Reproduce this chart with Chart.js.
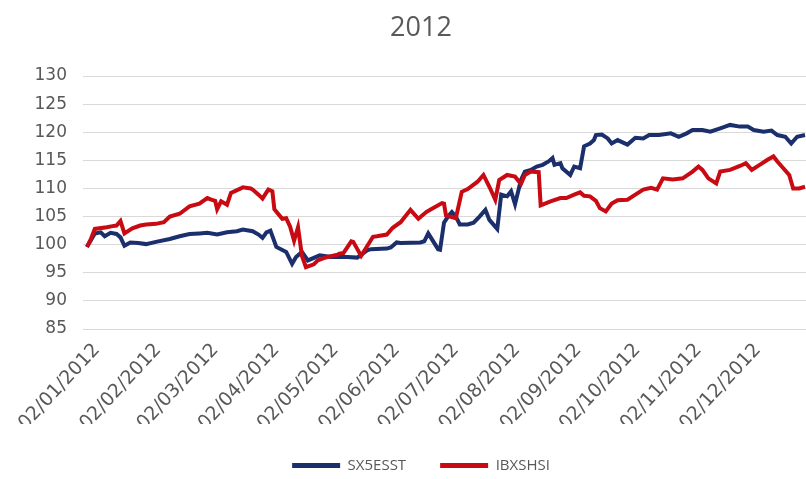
<!DOCTYPE html>
<html>
<head>
<meta charset="utf-8">
<title>2012</title>
<script src="https://cdn.jsdelivr.net/npm/chart.js@4"></script>
<style>
  html, body { margin: 0; padding: 0; background: #ffffff; }
  #chartBox { width: 806px; height: 479px; }
</style>
</head>
<body>
<div id="chartBox"><canvas id="indexChart"></canvas></div>
<script>
// Dias do ano (1 = 01/01/2012) e fechamentos base 100
const sxDays = [
  2, 6, 9, 11, 14, 17, 19, 21, 24, 28, 32, 37, 44, 49, 54, 59, 63, 68, 73, 78,
  81, 86, 89, 91, 93, 95, 98, 103, 106, 108, 111, 114, 120, 126, 134, 139, 144, 146, 154, 156,
  159, 161, 171, 173, 175, 180, 181, 183, 185, 187, 189, 191, 195, 198, 201, 204, 206, 210, 212, 215,
  217, 219, 222, 224, 227, 230, 233, 236, 238, 239, 242, 243, 247, 249, 252, 254, 257, 259, 260, 263,
  266, 268, 271, 276, 280, 284, 287, 292, 298, 302, 306, 309, 314, 318, 323, 328, 333, 337, 340, 345,
  349, 352, 356, 359, 362, 366
];
const sxValues = [
  99.6, 102.0, 102.2, 101.5, 102.1, 101.9, 101.3, 99.8, 100.4, 100.3, 100.1, 100.5, 101.0, 101.5, 101.9, 102.0, 102.1, 101.8, 102.2, 102.4,
  102.7, 102.4, 101.8, 101.2, 102.2, 102.5, 99.6, 98.7, 96.6, 97.8, 98.7, 97.2, 98.1, 97.8, 97.8, 97.7, 99.0, 99.2, 99.3, 99.5,
  100.4, 100.3, 100.4, 100.6, 102.0, 99.2, 99.1, 103.9, 105.0, 105.8, 105.0, 103.6, 103.6, 103.9, 105.0, 106.2, 104.4, 102.8, 108.9, 108.6,
  109.5, 107.2, 111.5, 113.0, 113.3, 113.9, 114.2, 114.8, 115.4, 114.2, 114.5, 113.6, 112.4, 113.9, 113.6, 117.5, 118.0, 118.6, 119.5, 119.6,
  118.9, 118.0, 118.6, 117.8, 119.0, 118.9, 119.5, 119.5, 119.8, 119.2, 119.8, 120.4, 120.4, 120.1, 120.7, 121.3, 121.0, 121.0, 120.4, 120.1,
  120.3, 119.5, 119.2, 118.0, 119.2, 119.5
];

const ibDays = [
  2, 4, 6, 12, 15, 17, 19, 21, 25, 29, 32, 37, 41, 44, 49, 54, 59, 63, 65, 67,
  68, 70, 73, 75, 80, 81, 85, 86, 89, 91, 93, 94, 96, 97, 101, 103, 105, 107, 109, 111,
  113, 117, 119, 122, 124, 129, 130, 132, 136, 137, 141, 147, 149, 154, 157, 161, 166, 170, 174, 176,
  182, 183, 184, 186, 189, 192, 195, 200, 203, 206, 209, 211, 215, 219, 222, 224, 227, 231, 232, 237,
  242, 245, 249, 252, 254, 257, 260, 262, 265, 268, 271, 276, 280, 284, 288, 291, 294, 299, 304, 309,
  312, 314, 317, 321, 323, 328, 333, 336, 339, 343, 347, 350, 352, 355, 358, 360, 363, 366
];
const ibValues = [
  99.6, 101.0, 102.8, 103.1, 103.3, 103.4, 104.2, 102.0, 102.9, 103.4, 103.6, 103.7, 104.0, 105.0, 105.5, 106.8, 107.3, 108.3, 108.0, 107.8,
  106.3, 107.7, 107.1, 109.2, 110.0, 110.2, 110.0, 109.8, 108.9, 108.2, 109.3, 109.8, 109.5, 106.3, 104.6, 104.7, 103.2, 100.7, 103.1, 98.0,
  96.0, 96.5, 97.2, 97.6, 97.8, 98.2, 98.4, 98.5, 100.6, 100.5, 98.0, 101.4, 101.5, 101.8, 103.0, 104.0, 106.2, 104.6, 105.8, 106.2,
  107.4, 107.3, 105.2, 105.0, 104.7, 109.4, 109.9, 111.2, 112.4, 110.3, 108.0, 111.5, 112.4, 112.1, 110.8, 112.4, 113.0, 112.9, 107.0, 107.7,
  108.3, 108.3, 108.9, 109.3, 108.7, 108.6, 107.8, 106.5, 105.9, 107.3, 107.9, 108.0, 108.9, 109.8, 110.1, 109.8, 111.8, 111.6, 111.8, 113.0,
  113.9, 113.3, 111.8, 110.9, 113.0, 113.3, 114.0, 114.5, 113.3, 114.2, 115.1, 115.7, 114.8, 113.6, 112.4, 110.0, 110.0, 110.3
];

// Marcas do eixo X: dia 2 de cada mês
const tickDays = [2, 33, 62, 93, 123, 154, 184, 215, 246, 276, 307, 337];
const tickLabels = [
  "02/01/2012", "02/02/2012", "02/03/2012", "02/04/2012", "02/05/2012", "02/06/2012",
  "02/07/2012", "02/08/2012", "02/09/2012", "02/10/2012", "02/11/2012", "02/12/2012"
];

const TEXT_COLOR = "#595959";
const GRID_COLOR = "#d9d9d9";
const FONT = "'Open Sans', 'DejaVu Sans', sans-serif";
const TICK_FONT = "'DejaVu Sans', sans-serif";

function toPoints(days, values) {
  return days.map((d, i) => ({ x: d, y: values[i] }));
}

function renderIndexChart() {
  const ctx = document.getElementById("indexChart");

  new Chart(ctx, {
    type: "line",
    data: {
      datasets: [
        {
          label: "SX5ESST",
          data: toPoints(sxDays, sxValues),
          borderColor: "#1c2f6d",
          backgroundColor: "#1c2f6d",
          borderWidth: 4,
          pointRadius: 0,
          tension: 0,
          order: 2,
        },
        {
          label: "IBXSHSI",
          data: toPoints(ibDays, ibValues),
          borderColor: "#c80a12",
          backgroundColor: "#c80a12",
          borderWidth: 4,
          pointRadius: 0,
          tension: 0,
          order: 1,
        },
      ],
    },
    options: {
      responsive: true,
      maintainAspectRatio: false,
      animation: false,
      // folga à esquerda desloca título e legenda um pouco para a direita
      layout: { padding: { top: 0, right: 0, left: 36, bottom: -4 } },
      plugins: {
        title: {
          display: true,
          text: "2012",
          color: TEXT_COLOR,
          font: { family: FONT, size: 27, weight: "normal" },
          padding: { top: 12, bottom: 31.6 },
        },
        legend: {
          position: "bottom",
          labels: {
            color: TEXT_COLOR,
            font: { family: FONT, size: 15 },
            boxWidth: 48,
            boxHeight: 5,
            padding: 34,
            sort: (a, b) => a.datasetIndex - b.datasetIndex,
            generateLabels: (chart) =>
              Chart.defaults.plugins.legend.labels.generateLabels(chart).map((l) => ({ ...l, lineWidth: 0 })),
          },
        },
        tooltip: { enabled: false },
      },
      scales: {
        x: {
          type: "linear",
          min: 0,
          max: 366.5,
          grid: { display: false },
          border: { color: GRID_COLOR },
          afterBuildTicks: (scale) => {
            scale.ticks = tickDays.map((d) => ({ value: d }));
          },
          afterFit: (scale) => {
            scale.height = 95;
          },
          ticks: {
            color: TEXT_COLOR,
            font: { family: TICK_FONT, size: 19 },
            minRotation: 47,
            maxRotation: 47,
            autoSkip: false,
            padding: 2,
            labelOffset: 10,
            callback: (value, index) => tickLabels[index],
          },
        },
        y: {
          min: 85,
          max: 130,
          grid: { color: GRID_COLOR, drawTicks: false },
          border: { display: false },
          afterFit: (scale) => {
            scale.width = 47;
          },
          ticks: {
            stepSize: 5,
            color: TEXT_COLOR,
            font: { family: TICK_FONT, size: 17 },
            padding: 16,
          },
        },
      },
    },
  });
}

renderIndexChart();
</script>
</body>
</html>
